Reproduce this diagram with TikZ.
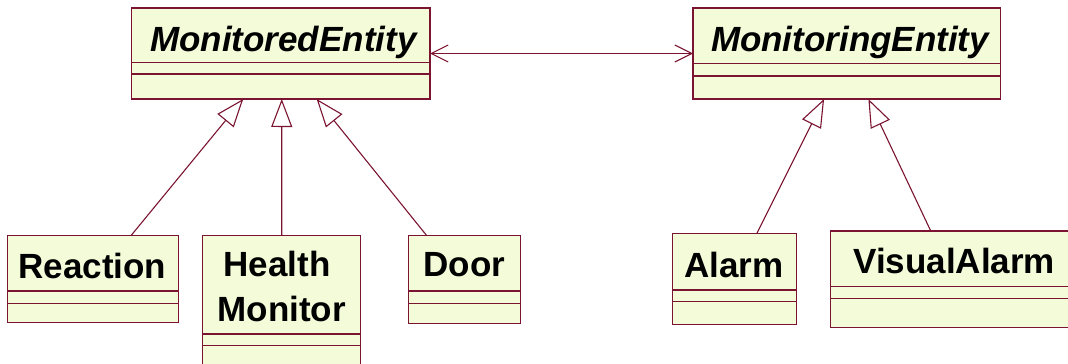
\documentclass[tikz,border=0pt]{standalone}
\usepackage{fontspec}
\setmainfont{Liberation Sans}
\usetikzlibrary{arrows.meta,calc}

\definecolor{umlfill}{RGB}{243,251,217}
\definecolor{umlline}{RGB}{123,20,48}

\tikzset{
  classbox/.style={draw=umlline, fill=umlfill, line width=1.2pt, anchor=north west,
    inner sep=0pt, outer sep=0pt},
  divider/.style={draw=umlline, line width=1.1pt},
  title/.style={anchor=base, inner sep=0pt, font=\fontsize{35}{45}\selectfont\bfseries},
  abstract/.style={title, font=\fontsize{35}{45}\selectfont\bfseries\itshape},
  gen/.style={draw=umlline, line width=1.1pt,
    -{Triangle[length=28pt, width=21pt, fill=white, line width=1.1pt]}},
  assoc/.style={draw=umlline, line width=1.1pt,
    {Straight Barb[length=17pt, width=17pt, line width=1.1pt]}-{Straight Barb[length=17pt, width=17pt, line width=1.1pt]}},
}

% class box: name, x, y, width, height, first divider, second divider (offsets from top)
\newcommand{\umlclass}[7]{%
  \node[classbox, minimum width=#4pt, minimum height=#5pt] (#1) at (#2,#3) {};
  \draw[divider] ($(#1.north west)+(0,#6)$) -- ($(#1.north east)+(0,#6)$);
  \draw[divider] ($(#1.north west)+(0,#7)$) -- ($(#1.north east)+(0,#7)$);
}

\begin{document}
\begin{tikzpicture}[x=1pt, y=-1pt]
  \useasboundingbox (0,0) rectangle (1068,364);
  \clip (0,0) rectangle (1068,364);

  % abstract parents
  \umlclass{monitored}{131.7}{8}{298.3}{91}{54.3}{66}
  \node[abstract] (monitored-name) at (283.3,51.7) {MonitoredEntity};

  \umlclass{monitoring}{693}{8}{307.7}{91}{55.3}{68}
  \node[abstract] (monitoring-name) at (850,51.7) {MonitoringEntity};

  % concrete subclasses
  \umlclass{reaction}{7.3}{235.7}{171}{87}{55.3}{67.6}
  \node[title] (reaction-name) at (92.3,278.3) {Reaction};

  \umlclass{health}{202.7}{235.7}{158}{140}{98.3}{110}
  \node[title] (health-name1) at (277,276.7) {Health};
  \node[title] (health-name2) at (281.7,321.7) {Monitor};

  \umlclass{door}{408.3}{235.7}{112}{87.6}{55.3}{67.6}
  \node[title] (door-name) at (464.3,276.5) {Door};

  \umlclass{alarm}{672.3}{233.7}{124}{90.6}{56.3}{67.6}
  \node[title] (alarm-name) at (734,277.3) {Alarm};

  \umlclass{visual}{830.3}{231}{248}{96.7}{55.7}{67.7}
  \node[title] (visual-name) at (954.2,273.3) {VisualAlarm};

  % association between the two parents
  \draw[assoc] (monitored.east) -- (monitoring.west);

  % generalizations
  \draw[gen] ($(reaction.north west)!0.723!(reaction.north east)$) -- ($(monitored.south west)!0.374!(monitored.south east)$);
  \draw[gen] (health.north) -- ($(monitored.south west)!0.503!(monitored.south east)$);
  \draw[gen] ($(door.north west)!0.165!(door.north east)$) -- ($(monitored.south west)!0.620!(monitored.south east)$);
  \draw[gen] ($(alarm.north west)!0.681!(alarm.north east)$) -- ($(monitoring.south west)!0.426!(monitoring.south east)$);
  \draw[gen] ($(visual.north west)!0.405!(visual.north east)$) -- ($(monitoring.south west)!0.570!(monitoring.south east)$);
\end{tikzpicture}
\end{document}
